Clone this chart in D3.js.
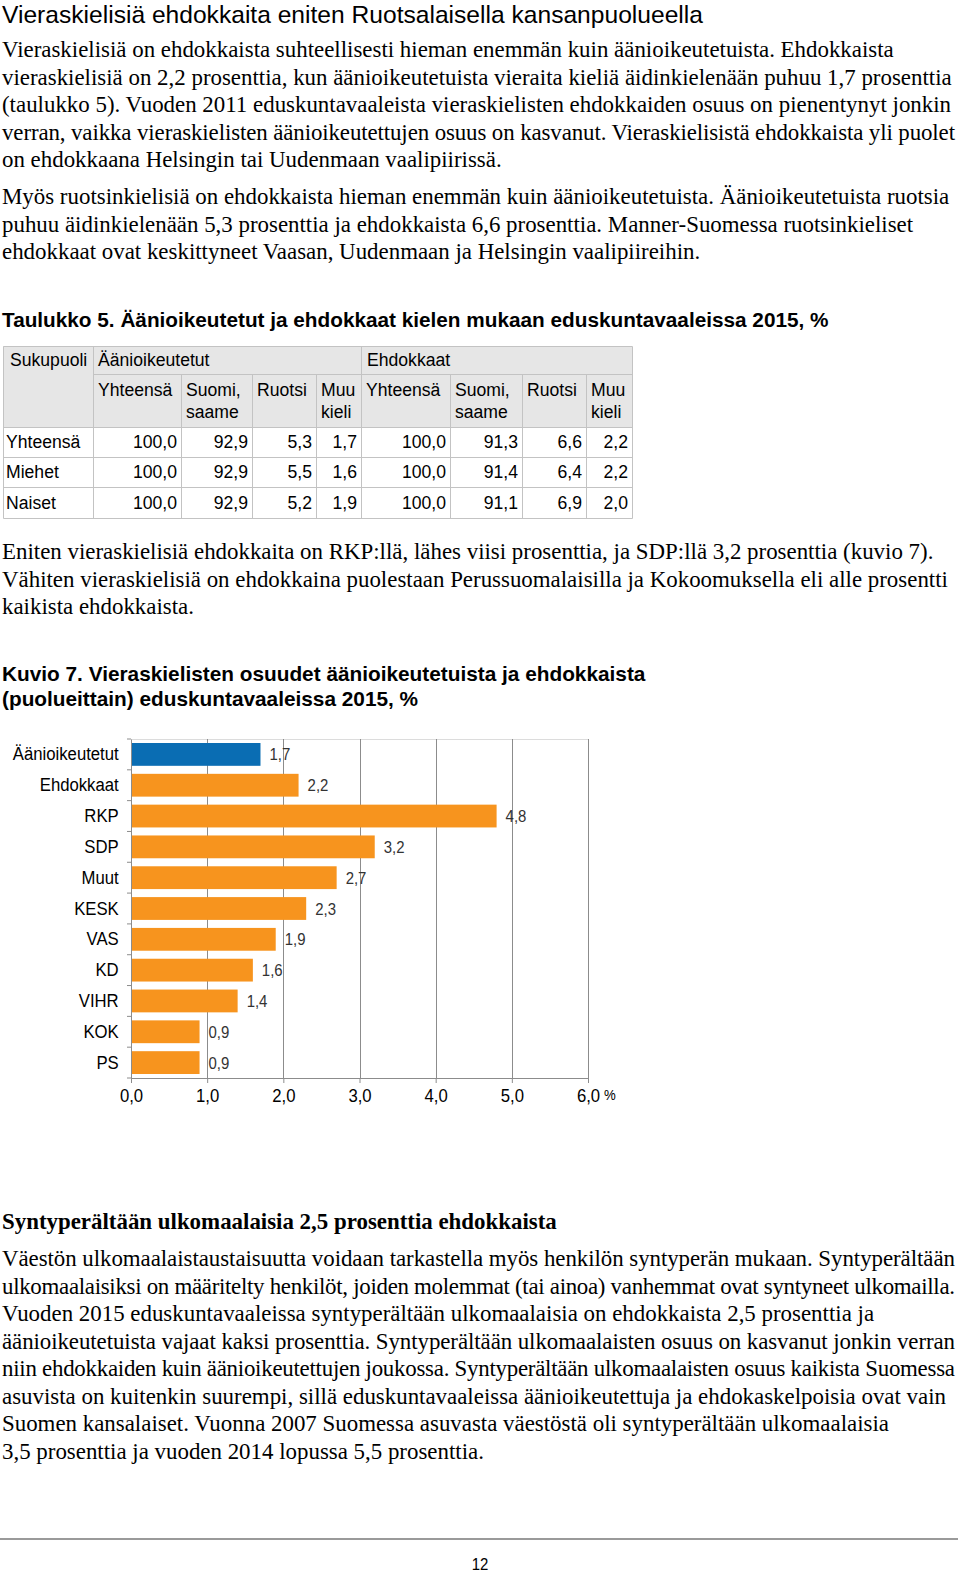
<!DOCTYPE html>
<html>
<head>
<meta charset="utf-8">
<script src="https://cdn.jsdelivr.net/npm/d3@7"></script>
<style>
  html, body { margin: 0; padding: 0; background: #fff; }
  svg { display: block; }
</style>
</head>
<body>
<svg id="page" width="960" height="1572"></svg>
<script>
// ---------------- DATA ----------------
const chartCategories = ["Äänioikeutetut", "Ehdokkaat", "RKP", "SDP", "Muut", "KESK", "VAS", "KD", "VIHR", "KOK", "PS"];
const chartValues = [1.7, 2.2, 4.8, 3.2, 2.7, 2.3, 1.9, 1.6, 1.4, 0.9, 0.9];
const chartGroups = ["all", "cand", "cand", "cand", "cand", "cand", "cand", "cand", "cand", "cand", "cand"];
const xTicks = [0, 1, 2, 3, 4, 5, 6];

const tableRowLabels = ["Yhteensä", "Miehet", "Naiset"];
const tableVoters = [[100.0, 92.9, 5.3, 1.7], [100.0, 92.9, 5.5, 1.6], [100.0, 92.9, 5.2, 1.9]];
const tableCandidates = [[100.0, 91.3, 6.6, 2.2], [100.0, 91.4, 6.4, 2.2], [100.0, 91.1, 6.9, 2.0]];
const tableGroupHeaders = ["Sukupuoli", "Äänioikeutetut", "Ehdokkaat"];
const tableSubHeaders = [["Yhteensä"], ["Suomi,", "saame"], ["Ruotsi"], ["Muu", "kieli"], ["Yhteensä"], ["Suomi,", "saame"], ["Ruotsi"], ["Muu", "kieli"]];

const pageTitle = "Vieraskielisiä ehdokkaita eniten Ruotsalaisella kansanpuolueella";
const para1 = [
  "Vieraskielisiä on ehdokkaista suhteellisesti hieman enemmän kuin äänioikeutetuista. Ehdokkaista",
  "vieraskielisiä on 2,2 prosenttia, kun äänioikeutetuista vieraita kieliä äidinkielenään puhuu 1,7 prosenttia",
  "(taulukko 5). Vuoden 2011 eduskuntavaaleista vieraskielisten ehdokkaiden osuus on pienentynyt jonkin",
  "verran, vaikka vieraskielisten äänioikeutettujen osuus on kasvanut. Vieraskielisistä ehdokkaista yli puolet",
  "on ehdokkaana Helsingin tai Uudenmaan vaalipiirissä."
];
const para2 = [
  "Myös ruotsinkielisiä on ehdokkaista hieman enemmän kuin äänioikeutetuista. Äänioikeutetuista ruotsia",
  "puhuu äidinkielenään 5,3 prosenttia ja ehdokkaista 6,6 prosenttia. Manner-Suomessa ruotsinkieliset",
  "ehdokkaat ovat keskittyneet Vaasan, Uudenmaan ja Helsingin vaalipiireihin."
];
const tableTitle = "Taulukko 5. Äänioikeutetut ja ehdokkaat kielen mukaan eduskuntavaaleissa 2015, %";
const para3 = [
  "Eniten vieraskielisiä ehdokkaita on RKP:llä, lähes viisi prosenttia, ja SDP:llä 3,2 prosenttia (kuvio 7).",
  "Vähiten vieraskielisiä on ehdokkaina puolestaan Perussuomalaisilla ja Kokoomuksella eli alle prosentti",
  "kaikista ehdokkaista."
];
const chartTitle = ["Kuvio 7. Vieraskielisten osuudet äänioikeutetuista ja ehdokkaista", "(puolueittain) eduskuntavaaleissa 2015, %"];
const sectionTitle = "Syntyperältään ulkomaalaisia 2,5 prosenttia ehdokkaista";
const para4 = [
  "Väestön ulkomaalaistaustaisuutta voidaan tarkastella myös henkilön syntyperän mukaan. Syntyperältään",
  "ulkomaalaisiksi on määritelty henkilöt, joiden molemmat (tai ainoa) vanhemmat ovat syntyneet ulkomailla.",
  "Vuoden 2015 eduskuntavaaleissa syntyperältään ulkomaalaisia on ehdokkaista 2,5 prosenttia ja",
  "äänioikeutetuista vajaat kaksi prosenttia. Syntyperältään ulkomaalaisten osuus on kasvanut jonkin verran",
  "niin ehdokkaiden kuin äänioikeutettujen joukossa. Syntyperältään ulkomaalaisten osuus kaikista Suomessa",
  "asuvista on kuitenkin suurempi, sillä eduskuntavaaleissa äänioikeutettuja ja ehdokaskelpoisia ovat vain",
  "Suomen kansalaiset. Vuonna 2007 Suomessa asuvasta väestöstä oli syntyperältään ulkomaalaisia",
  "3,5 prosenttia ja vuoden 2014 lopussa 5,5 prosenttia."
];
const pageNumber = "12";

// ---------------- STYLE ----------------
const SERIF = "'Liberation Serif', 'Times New Roman', serif";
const SANS = "'Liberation Sans', Arial, sans-serif";
const BLUE = "#0a6db3";
const ORANGE = "#f7941e";
const MAXW = 953;

const svg = d3.select("#page");
const fmt = v => v.toFixed(1).replace(".", ",");

function textBlock(lines, x, y0, lh, font, size, weight) {
  const sel = svg.append("g").selectAll("text").data(lines).join("text")
    .attr("x", x).attr("y", (d, i) => y0 + i * lh)
    .style("font-family", font).style("font-size", size + "px")
    .style("font-weight", weight || "normal").attr("fill", "#000")
    .text(d => d);
  sel.each(function () {
    const w = this.getComputedTextLength();
    if (w > MAXW) d3.select(this).attr("textLength", MAXW).attr("lengthAdjust", "spacing");
  });
}

// Texts
textBlock([pageTitle], 2, 23, 0, SANS, 24.6);
textBlock(para1, 2, 57, 27.5, SERIF, 22.9);
textBlock(para2, 2, 204, 27.5, SERIF, 22.9);
textBlock([tableTitle], 2, 327, 0, SANS, 20.75, "bold");
textBlock(para3, 2, 559, 27.5, SERIF, 22.9);
textBlock(chartTitle, 2, 681, 25, SANS, 20.8, "bold");
textBlock([sectionTitle], 2, 1229, 0, SERIF, 22.9, "bold");
textBlock(para4, 2, 1266, 27.5, SERIF, 22.9);

// ---------------- TABLE ----------------
const colEdges = [3, 93, 181, 252, 316, 361, 450, 522, 586, 632];
const rowEdges = [346, 374, 427, 457, 487, 518];
const tg = svg.append("g");
const GRAYBG = "#e6e6e6", BORDER = "#c3c3c3";
tg.append("rect").attr("x", colEdges[0]).attr("y", rowEdges[0])
  .attr("width", colEdges[9] - colEdges[0]).attr("height", rowEdges[2] - rowEdges[0]).attr("fill", GRAYBG);
const tableData = tableRowLabels.map((lab, i) => ({ lab, vals: tableVoters[i].concat(tableCandidates[i]) }));
tableData.forEach((r, i) => {
  tg.append("rect").attr("x", colEdges[0]).attr("y", rowEdges[i + 2])
    .attr("width", colEdges[9] - colEdges[0]).attr("height", rowEdges[i + 3] - rowEdges[i + 2]).attr("fill", "#fff");
});
const lines = [];
lines.push([colEdges[0], rowEdges[0], colEdges[9], rowEdges[0]]);
lines.push([colEdges[0], rowEdges[5], colEdges[9], rowEdges[5]]);
lines.push([colEdges[0], rowEdges[0], colEdges[0], rowEdges[5]]);
lines.push([colEdges[9], rowEdges[0], colEdges[9], rowEdges[5]]);
lines.push([colEdges[1], rowEdges[1], colEdges[9], rowEdges[1]]);
for (let k = 2; k < 5; k++) lines.push([colEdges[0], rowEdges[k], colEdges[9], rowEdges[k]]);
lines.push([colEdges[1], rowEdges[0], colEdges[1], rowEdges[5]]);
lines.push([colEdges[5], rowEdges[0], colEdges[5], rowEdges[5]]);
[2, 3, 4, 6, 7, 8].forEach(c => lines.push([colEdges[c], rowEdges[1], colEdges[c], rowEdges[5]]));
tg.selectAll("line.b").data(lines).join("line")
  .attr("x1", d => d[0] + 0.5).attr("y1", d => d[1] + 0.5).attr("x2", d => d[2] + 0.5).attr("y2", d => d[3] + 0.5)
  .attr("stroke", BORDER).attr("stroke-width", 1);

const TS = 17.6;
function tText(x, y, s, anchor) {
  tg.append("text").attr("x", x).attr("y", y).attr("text-anchor", anchor || "start")
    .style("font-family", SANS).style("font-size", TS + "px").attr("fill", "#000").text(s);
}
tText(colEdges[0] + 7, 366, tableGroupHeaders[0]);
tText(colEdges[1] + 5, 366, tableGroupHeaders[1]);
tText(colEdges[5] + 6, 366, tableGroupHeaders[2]);
tableSubHeaders.forEach((h, c) => {
  h.forEach((s, li) => tText(colEdges[c + 1] + 5, 396 + li * 22, s));
});
tableData.forEach((r, i) => {
  const y = (rowEdges[i + 2] + rowEdges[i + 3]) / 2 + 6;
  tText(colEdges[0] + 3, y, r.lab);
  r.vals.forEach((v, c) => tText(colEdges[c + 2] - 4, y, fmt(v), "end"));
});

// ---------------- CHART ----------------
const plot = { left: 131, right: 588, top: 739, bottom: 1078 };
const x = d3.scaleLinear().domain([0, 6]).range([plot.left, plot.right]);
const y = d3.scaleBand().domain(chartCategories).range([plot.top, plot.bottom]).paddingInner(0.26).paddingOuter(0.13);
const yTickScale = d3.scaleBand().domain(chartCategories).range([plot.top, plot.bottom]);
const cg = svg.append("g");

cg.append("line").attr("x1", plot.left).attr("x2", plot.right).attr("y1", plot.top + 0.5).attr("y2", plot.top + 0.5)
  .attr("stroke", "#dcdcdc").attr("stroke-width", 1);
cg.selectAll("line.grid").data(xTicks.filter(t => t > 0)).join("line")
  .attr("x1", d => Math.round(x(d)) + 0.5).attr("x2", d => Math.round(x(d)) + 0.5)
  .attr("y1", plot.top).attr("y2", plot.bottom)
  .attr("stroke", "#8c8c8c").attr("stroke-width", 1);

cg.selectAll("rect.bar").data(chartCategories).join("rect")
  .attr("x", x(0)).attr("y", d => y(d))
  .attr("width", (d, i) => x(chartValues[i]) - x(0)).attr("height", y.bandwidth())
  .attr("fill", (d, i) => chartGroups[i] === "all" ? BLUE : ORANGE);

cg.selectAll("text.val").data(chartCategories).join("text")
  .attr("transform", (d, i) => `translate(${x(chartValues[i]) + 9},${y(d) + y.bandwidth() / 2 + 6}) scale(0.88,1)`)
  .style("font-family", SANS).style("font-size", "17px").attr("fill", "#333")
  .text((d, i) => fmt(chartValues[i]));

const yAxis = d3.axisLeft(yTickScale).tickSize(0).tickPadding(14);
const yg = cg.append("g").attr("transform", `translate(${plot.left},0)`).call(yAxis);
yg.select(".domain").attr("stroke", "#8c8c8c");
yg.selectAll("text").style("font-family", SANS).style("font-size", "19px").attr("fill", "#000")
  .attr("transform", "scale(0.88,1)");
const bounds = chartCategories.map(c => yTickScale(c)).concat([plot.bottom]);
cg.selectAll("line.ytick").data(bounds).join("line")
  .attr("x1", plot.left - 4).attr("x2", plot.left).attr("y1", d => d).attr("y2", d => d)
  .attr("stroke", "#8c8c8c");

const xAxis = d3.axisBottom(x).tickValues(xTicks).tickSize(5).tickPadding(6).tickFormat(fmt);
const xg = cg.append("g").attr("transform", `translate(0,${plot.bottom})`).call(xAxis);
xg.select(".domain").attr("stroke", "#8c8c8c");
xg.selectAll(".tick line").attr("stroke", "#8c8c8c");
xg.selectAll("text").style("font-family", SANS).style("font-size", "19px").attr("fill", "#000")
  .attr("transform", "scale(0.88,1)");
cg.append("text").attr("transform", `translate(${x(6) + 16},${plot.bottom + 22}) scale(0.88,1)`)
  .style("font-family", SANS).style("font-size", "15px").attr("fill", "#000").text("%");

// ---------------- FOOTER ----------------
svg.append("line").attr("x1", 0).attr("x2", 958).attr("y1", 1539).attr("y2", 1539)
  .attr("stroke", "#9a9a9a").attr("stroke-width", 2);
svg.append("text").attr("transform", "translate(480,1570) scale(0.88,1)").attr("text-anchor", "middle")
  .style("font-family", SANS).style("font-size", "17px").attr("fill", "#000").text(pageNumber);
</script>
</body>
</html>
